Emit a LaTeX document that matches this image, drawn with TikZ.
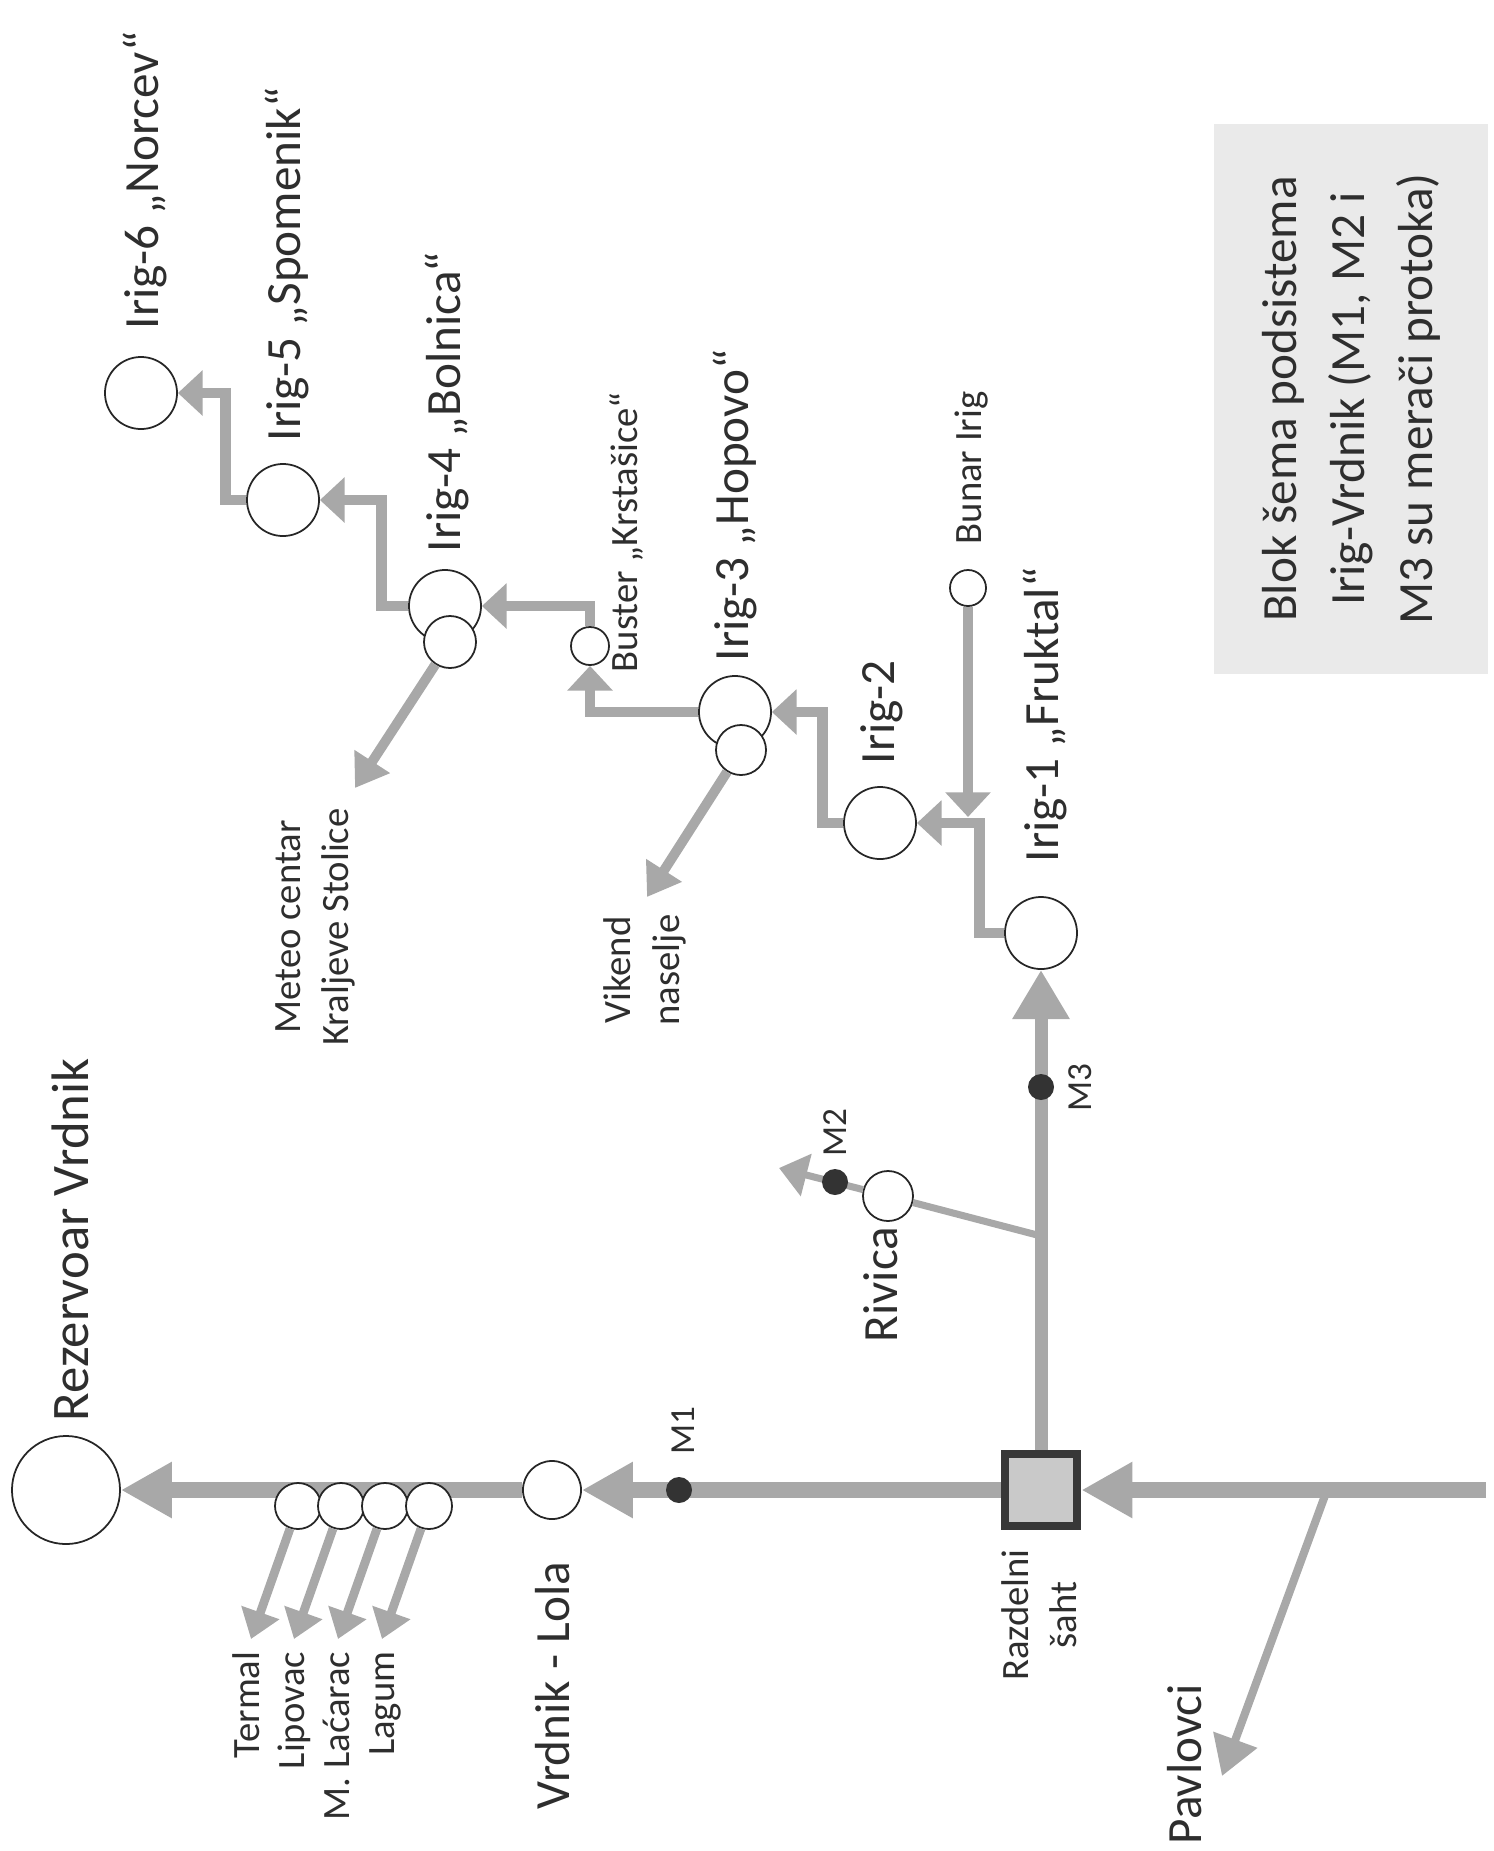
\documentclass[tikz,border=0pt]{standalone}
\usepackage{fontspec}
\setmainfont{Carlito}
\usepackage{xcolor}
\usetikzlibrary{arrows.meta}
\definecolor{pipegray}{HTML}{A8A8A8}
\definecolor{inkgray}{HTML}{2E2E2E}
\definecolor{meterdark}{HTML}{333333}
\definecolor{boxgray}{HTML}{EAEAEA}
\definecolor{sahtfill}{HTML}{C9C9C9}
\definecolor{sahtedge}{HTML}{383838}

\begin{document}
\begin{tikzpicture}[x=0.01cm, y=-0.01cm,
    well/.style={circle, draw=black!85, line width=0.5pt, fill=white,
                 inner sep=0pt, minimum size=#1},
    well/.default=0.72cm,
    meter/.style={circle, fill=meterdark, inner sep=0pt, minimum size=0.26cm},
    lbl/.style={rotate=90, inner sep=0pt, text=inkgray,
                font=\fontsize{14}{17}\selectfont},
    note/.style={rotate=90, inner sep=0pt, text=inkgray, align=center,
                 font=\fontsize{11}{13.7}\selectfont},
    main/.style={pipegray, line width=4.3pt, -{Triangle[length=14.5pt, width=15pt]}},
    trunk/.style={pipegray, line width=3.7pt, -{Triangle[length=14pt, width=15.4pt]}},
    stair/.style={pipegray, line width=3.1pt, -{Triangle[length=7pt, width=12.5pt]}},
    outlet/.style={pipegray, line width=2.8pt, -{Triangle[length=9pt, width=11.5pt]}},
    tap/.style={pipegray, line width=2.5pt, -{Triangle[length=8pt, width=11pt]}},
    feeder/.style={pipegray, line width=2pt}
  ]
    \useasboundingbox (0,0) rectangle (1494,1851);

    \node[well=1.08cm] (rez) at (66,1490) {};
    \node[well=0.58cm] (lola) at (552,1490) {};
    \node[draw=sahtedge, fill=sahtfill, line width=2.5pt, minimum size=0.72cm,
          inner sep=0pt] (saht) at (1041,1490) {};
    \node[well] (irig1) at (1041,933) {};
    \node[well] (irig2) at (880,823) {};
    \node[well] (irig3) at (735,712) {};
    \node[well=0.5cm] (irig3b) at (741,750) {};
    \node[well=0.38cm] (buster) at (590,646) {};
    \node[well] (irig4) at (445,606) {};
    \node[well=0.52cm] (irig4b) at (450,642) {};
    \node[well] (irig5) at (283,500) {};
    \node[well] (irig6) at (141,393) {};
    \node[well=0.36cm] (bunar) at (968,588) {};
    \node[well=0.5cm] (rivica) at (888,1196) {};

    \coordinate (inlet) at (1486,1490);
    \coordinate (pavjoin) at (1327,1490);
    \coordinate (pavtip) at (1222,1776);
    \coordinate (rivjoin) at (1041,1236);
    \coordinate (rivtip) at (779,1168);
    \coordinate (bunartip) at (968,817);
    \coordinate (vikendtip) at (647,897);
    \coordinate (meteotip) at (355,788);

    \draw[main] (inlet) -- (saht);
    \draw[main] (saht) -- (lola);
    \draw[main] (lola) -- (rez);
    \draw[trunk] (saht) -- (irig1);
    \draw[pipegray, line width=2.3pt, -{Triangle[length=11pt, width=12.8pt]}]
      (pavjoin) -- (pavtip);
    \draw[feeder] (rivjoin) -- (rivica);
    \draw[feeder, -{Triangle[length=8pt, width=12pt]}] (rivica) -- (rivtip);

    \draw[stair] (irig1.west) -- ++(-25,0) |- (irig2);
    \draw[stair] (bunar) -- (bunartip);
    \draw[stair] (irig2.west) -- ++(-21,0) |- (irig3);
    \draw[stair] (irig3.west) -| (buster);
    \draw[stair] (buster.north) |- (irig4);
    \draw[stair] (irig4.west) -- ++(-27,0) |- (irig5);
    \draw[stair] (irig5.west) -- ++(-21,0) |- (irig6);
    \draw[outlet] (irig3b) -- (vikendtip);
    \draw[outlet] (irig4b) -- (meteotip);

    \foreach \name/\xpos in {termal/298, lipovac/341, lacarac/385, lagum/429} {
      \node[well=0.46cm] (\name) at (\xpos,1506) {};
      \coordinate (\name tip) at (\xpos-47,1639);
      \draw[tap] (\name) -- (\name tip);
    }

    \node[meter] (m1) at (679,1490) {};
    \node[meter] (m2) at (835,1182) {};
    \node[meter] (m3) at (1041,1087) {};

    \node[lbl, font=\fontsize{15}{18}\selectfont, anchor=west] (rezlabel) at (70,1422) {Rezervoar Vrdnik};
    \node[lbl, anchor=west] (irig6label) at (145,330) {Irig-6 „Norcev“};
    \node[lbl, anchor=west] (irig5label) at (287,442) {Irig-5 „Spomenik“};
    \node[lbl, anchor=west] (irig4label) at (447,553) {Irig-4 „Bolnica“};
    \node[lbl, anchor=west] (irig3label) at (735,662) {Irig-3 „Hopovo“};
    \node[lbl, anchor=west] (irig2label) at (882,765) {Irig-2};
    \node[lbl, anchor=west] (irig1label) at (1045,863) {Irig-1 „Fruktal“};
    \node[note, anchor=west] (busterlabel) at (626,673) {Buster „Krstašice“};
    \node[note, anchor=west] (bunarlabel) at (972,545) {Bunar Irig};
    \node[lbl, anchor=west] (rivicalabel) at (881,1343) {Rivica};
    \node[lbl, anchor=west] (lolalabel) at (553,1810) {Vrdnik - Lola};
    \node[lbl, anchor=west] (pavlabel) at (1185,1845) {Pavlovci};
    \node[note] (sahtlabel) at (1039,1615) {Razdelni\\šaht};
    \node[note] (meteolabel) at (315,927) {Meteo centar\\Kraljeve Stolice};
    \node[note, font=\fontsize{11}{14}\selectfont] (vikendlabel) at (645,970) {Vikend\\naselje};
    \node[note, align=right, font=\fontsize{11}{12.8}\selectfont, anchor=east]
      (taplabel) at (317,1651) {Termal\\Lipovac\\M. Laćarac\\Lagum};
    \node[note, font=\fontsize{10}{12}\selectfont] (m1label) at (683,1431) {M1};
    \node[note, font=\fontsize{10}{12}\selectfont, anchor=west] (m2label) at (835,1157) {M2};
    \node[note, font=\fontsize{10}{12}\selectfont] (m3label) at (1080,1088) {M3};

    \node[rotate=90, fill=boxgray, minimum width=5.5cm, minimum height=2.74cm,
          align=center, text=inkgray, font=\fontsize{14}{19.3}\selectfont]
      (legend) at (1351,399) {Blok šema podsistema\\Irig-Vrdnik (M1, M2 i\\M3 su merači protoka)};
  \end{tikzpicture}
\end{document}
